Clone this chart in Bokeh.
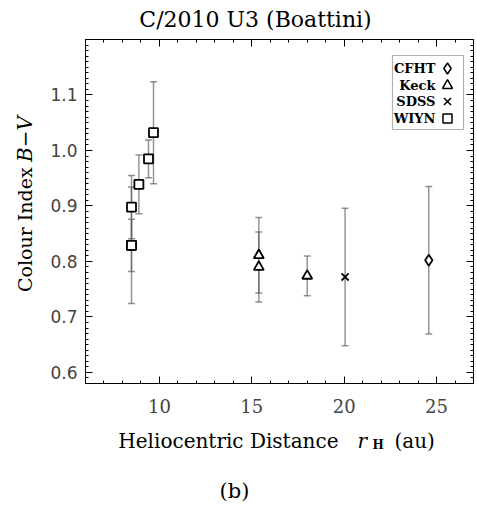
import math
from bokeh.plotting import figure
from bokeh.layouts import column, row
from bokeh.models import (ColumnDataSource, Whisker, TeeHead, LinearAxis, Range1d,
                          FixedTicker, SingleIntervalTicker, PrintfTickFormatter,
                          Label, BoxAnnotation)
from bokeh.embed import file_html
from bokeh.resources import INLINE

# B-V colour index of C/2010 U3 (Boattini) versus heliocentric distance
wiyn_r = [8.49, 8.49, 8.49, 8.89, 9.41, 9.68]
wiyn_bv = [0.829, 0.829, 0.898, 0.939, 0.985, 1.032]
wiyn_err = [0.047, 0.105, 0.057, 0.053, 0.034, 0.092]

keck_r = [15.38, 15.38, 18.0]
keck_bv = [0.811, 0.790, 0.774]
keck_err = [0.068, 0.063, 0.036]

sdss_r = [20.05]
sdss_bv = [0.772]
sdss_err = [0.124]

cfht_r = [24.58]
cfht_bv = [0.802]
cfht_err = [0.133]

y_major = [0.6, 0.7, 0.8, 0.9, 1.0, 1.1]

legend_names = ["CFHT", "Keck", "SDSS", "WIYN"]
legend_markers = ["diamond", "triangle", "x", "square"]
legend_sizes = [11, 10, 10, 9]

# page geometry (pixels)
W, H = 477, 507
TOP_H = 38          # title strip
LEFT_W = 45         # y-title strip
BOT_H = 87          # x-title strip
MAIN_W = W - LEFT_W
MAIN_H = H - TOP_H - BOT_H
FL, FR, FT, FB = 85, 473, 39, 383   # plot frame on the page
X0, X1 = 6.0, 27.0
Y0, Y1 = 0.58, 1.2
serif = "DejaVu Serif"


def dx(px):
    return X0 + (px - FL) * (X1 - X0) / (FR - FL)


def dy(py):
    return Y1 - (py - FT) * (Y1 - Y0) / (FB - FT)


p = figure(width=MAIN_W, height=MAIN_H, output_backend="svg", toolbar_location=None,
           x_range=Range1d(X0, X1), y_range=Range1d(Y0, Y1),
           min_border_left=FL - LEFT_W, min_border_right=W - FR,
           min_border_top=FT - TOP_H, min_border_bottom=TOP_H + MAIN_H - FB,
           x_axis_location=None, y_axis_location=None)
p.grid.visible = False
p.outline_line_color = "black"
p.outline_line_width = 1
p.background_fill_color = "white"
p.border_fill_color = "white"

xt = SingleIntervalTicker(interval=5, num_minor_ticks=5)
y_minor = [round(0.58 + 0.01 * i, 2) for i in range(63)]
yt = FixedTicker(ticks=y_major, minor_ticks=y_minor)


def style_axis(ax, show_labels):
    ax.axis_line_color = "black"
    ax.major_tick_in = 7
    ax.major_tick_out = 0
    ax.minor_tick_in = 3
    ax.minor_tick_out = 0
    ax.major_tick_line_color = "black"
    ax.minor_tick_line_color = "black"
    if not show_labels:
        ax.major_label_text_color = None
        ax.major_label_text_font_size = "1px"
        ax.major_label_standoff = 0


bottom = LinearAxis(ticker=xt)
style_axis(bottom, True)
bottom.major_label_text_font = serif
bottom.major_label_text_font_size = "18px"
bottom.major_label_standoff = 15
p.add_layout(bottom, "below")

top = LinearAxis(ticker=xt)
style_axis(top, False)
p.add_layout(top, "above")

left = LinearAxis(ticker=yt, formatter=PrintfTickFormatter(format="%.1f"))
style_axis(left, True)
left.major_label_text_font = "DejaVu Sans"
left.major_label_text_font_size = "17px"
left.major_label_standoff = 8
p.add_layout(left, "left")

right = LinearAxis(ticker=yt)
style_axis(right, False)
p.add_layout(right, "right")

# error bars
bar_color = "#5a5a5a"
for r, v, e in [(wiyn_r, wiyn_bv, wiyn_err), (keck_r, keck_bv, keck_err),
                (sdss_r, sdss_bv, sdss_err), (cfht_r, cfht_bv, cfht_err)]:
    src = ColumnDataSource(dict(x=r, lo=[a - b for a, b in zip(v, e)],
                                hi=[a + b for a, b in zip(v, e)]))
    head = dict(size=7, line_color=bar_color, line_alpha=0.65, line_width=1.5)
    p.add_layout(Whisker(base="x", lower="lo", upper="hi", source=src,
                         line_color=bar_color, line_alpha=0.65, line_width=1.5,
                         upper_head=TeeHead(**head), lower_head=TeeHead(**head),
                         level="underlay"))

# data points
p.scatter(wiyn_r, wiyn_bv, marker="square", size=9, line_color="black",
          line_width=1.8, fill_color="white")
p.scatter(keck_r, keck_bv, marker="triangle", size=10, line_color="black",
          line_width=1.8, fill_color="white")
p.scatter(sdss_r, sdss_bv, marker="x", size=10, line_color="black", line_width=1.8)
p.scatter(cfht_r, cfht_bv, marker="diamond", size=11, line_color="black",
          line_width=1.8, fill_color="white")

# legend box with symbols to the right of the names
p.add_layout(BoxAnnotation(left=dx(392), right=dx(463), top=dy(55), bottom=dy(129),
                           fill_color="white", fill_alpha=1.0, level="underlay",
                           line_color="black", line_width=1.2))
row_y = [68, 85, 101, 118]
for name, mk, sz, py in zip(legend_names, legend_markers, legend_sizes, row_y):
    p.scatter([dx(447)], [dy(py)], marker=mk, size=sz, line_color="black",
              line_width=1.5, fill_color="white")
    p.add_layout(Label(x=dx(435), y=dy(py), text=name, text_align="right",
                       text_baseline="middle", text_font=serif,
                       text_font_style="bold", text_font_size="13px", text_color="black"))


def strip(w, h):
    """A bare figure whose data units are pixels, y measured downwards."""
    s = figure(width=w, height=h, output_backend="svg", toolbar_location=None,
               x_range=Range1d(0, w), y_range=Range1d(h, 0),
               min_border=0, x_axis_location=None, y_axis_location=None)
    s.grid.visible = False
    s.outline_line_color = None
    s.background_fill_color = "white"
    s.border_fill_color = "white"
    return s


def put(s, x, y, text, **kw):
    opts = dict(text_baseline="alphabetic", text_font=serif, text_font_size="20px",
                text_color="black")
    opts.update(kw)
    s.add_layout(Label(x=x, y=y, text=text, **opts))


# title strip
t = strip(W, TOP_H)
put(t, 255, 19, "C/2010 U3 (Boattini)", text_align="center", text_baseline="middle",
    text_font_size="22px")

# y-title strip (page y minus TOP_H)
ls = strip(LEFT_W, MAIN_H)
put(ls, 24, 180 - TOP_H, "Colour Index", angle=math.pi / 2, text_align="right",
    text_font_size="19px")
put(ls, 24, 174 - TOP_H, "B\u2212V", angle=math.pi / 2, text_align="left",
    text_font_style="italic", text_font_size="20px")

# x-title strip (page y minus top of strip)
y_off = TOP_H + MAIN_H
b = strip(W, BOT_H)
put(b, 338, 440 - y_off, "Heliocentric Distance", text_align="right")
put(b, 357, 440 - y_off, "r", text_align="left", text_font_style="italic")
put(b, 372, 444 - y_off, "H", text_align="left", text_font_style="bold", text_font_size="12px")
put(b, 394, 440 - y_off, "(au)", text_align="left")
put(b, 234, 490 - y_off, "(b)", text_align="center", text_baseline="middle",
    text_font_size="21px")

layout = column(t, row(ls, p), b)
open("out.html", "w").write(file_html(layout, INLINE))
